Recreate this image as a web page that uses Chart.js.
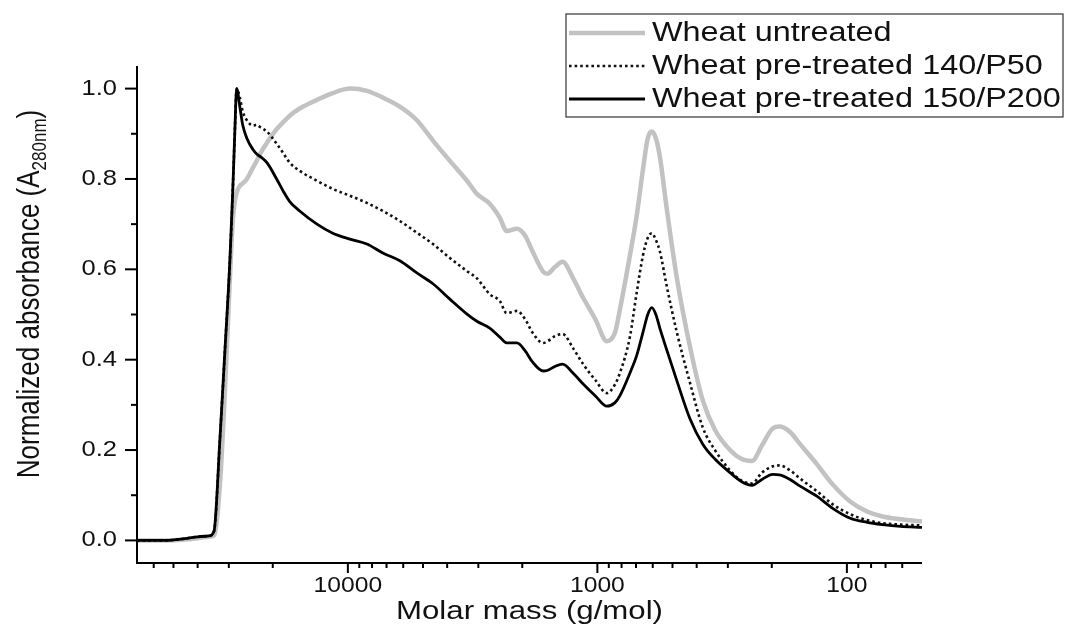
<!DOCTYPE html>
<html>
<head>
<meta charset="utf-8">
<script src="https://cdn.jsdelivr.net/npm/chart.js@4.4.1/dist/chart.umd.min.js"></script>
<style>
  html, body { margin: 0; padding: 0; background: #fff; }
  #wrap { width: 1069px; height: 640px; }
</style>
</head>
<body>
<div id="wrap"><canvas id="chart" width="1069" height="640"></canvas></div>
<script>
// Molar mass grid (g/mol)
const molarMass = [70000, 54000, 45000, 40000, 36000, 34400, 32600, 31100, 29700, 28900,
  28400, 27900, 27100, 26400, 25400, 24000, 23200, 22500, 21100, 19300,
  18200, 17100, 15600, 13300, 11500, 9820, 8390, 7240, 6190, 5290,
  4560, 3900, 3330, 3040, 2700, 2460, 2310, 2100, 1950, 1820,
  1650, 1590, 1480, 1380, 1250, 1140, 1020, 916, 850, 813,
  741, 695, 657, 628, 605, 583, 562, 526, 480, 426,
  378, 338, 294, 264, 240, 219, 198, 186, 169, 154,
  132, 114, 97, 83, 72, 61, 50];

const untreated = [0, 0, 0.002, 0.005, 0.008, 0.01, 0.12, 0.33, 0.58, 0.71,
  0.75, 0.77, 0.785, 0.79, 0.80, 0.825, 0.84, 0.855, 0.88, 0.91,
  0.925, 0.94, 0.956, 0.975, 0.99, 1.0, 0.995, 0.98, 0.96, 0.93,
  0.885, 0.84, 0.796, 0.767, 0.745, 0.714, 0.685, 0.69, 0.675, 0.64,
  0.595, 0.59, 0.605, 0.617, 0.58, 0.537, 0.49, 0.441, 0.46, 0.51,
  0.63, 0.72, 0.82, 0.89, 0.905, 0.89, 0.85, 0.73, 0.58, 0.43,
  0.31, 0.245, 0.20, 0.18, 0.176, 0.21, 0.248, 0.252, 0.24, 0.213,
  0.169, 0.124, 0.086, 0.064, 0.053, 0.047, 0.042];

const pre140 = [0, 0, 0.004, 0.008, 0.01, 0.02, 0.22, 0.42, 0.62, 0.78,
  0.90, 1.0, 0.98, 0.95, 0.93, 0.918, 0.92, 0.915, 0.905, 0.878,
  0.858, 0.836, 0.818, 0.796, 0.778, 0.763, 0.747, 0.729, 0.707, 0.681,
  0.656, 0.625, 0.596, 0.58, 0.545, 0.53, 0.503, 0.508, 0.49, 0.46,
  0.437, 0.44, 0.452, 0.457, 0.425, 0.39, 0.355, 0.326, 0.345, 0.37,
  0.45, 0.55, 0.63, 0.67, 0.68, 0.665, 0.64, 0.56, 0.46, 0.35,
  0.25, 0.20, 0.155, 0.132, 0.126, 0.15, 0.164, 0.166, 0.155, 0.137,
  0.109, 0.08, 0.058, 0.045, 0.038, 0.035, 0.033];

const pre150 = [0, 0, 0.004, 0.008, 0.01, 0.02, 0.22, 0.42, 0.62, 0.78,
  0.90, 1.0, 0.96, 0.92, 0.89, 0.865, 0.855, 0.85, 0.836, 0.80,
  0.774, 0.75, 0.729, 0.70, 0.68, 0.667, 0.656, 0.636, 0.619, 0.592,
  0.568, 0.534, 0.501, 0.485, 0.47, 0.45, 0.437, 0.437, 0.42, 0.395,
  0.375, 0.376, 0.385, 0.39, 0.37, 0.346, 0.32, 0.297, 0.305, 0.32,
  0.37, 0.41, 0.46, 0.50, 0.515, 0.50, 0.47, 0.42, 0.353, 0.27,
  0.213, 0.18, 0.15, 0.13, 0.122, 0.135, 0.146, 0.145, 0.135, 0.12,
  0.098, 0.071, 0.049, 0.04, 0.035, 0.031, 0.029];

const seriesNames = ["Wheat untreated", "Wheat pre-treated 140/P50", "Wheat pre-treated 150/P200"];
const xTicks = [10000, 1000, 100];
const xMinorTicks = [60000, 50000, 40000, 30000, 20000, 9000, 8000, 7000, 6000, 5000, 4000, 3000, 2000,
  900, 800, 700, 600, 500, 400, 300, 200, 90, 80, 70, 60];
const yTicks = [0, 0.2, 0.4, 0.6, 0.8, 1.0];
const yMinorTicks = [0.1, 0.3, 0.5, 0.7, 0.9];

const FONT = '"Liberation Sans", Arial, sans-serif';
const TEXT = "#111";
const toPoints = vals => molarMass.map((m, i) => ({ x: m, y: vals[i] }));

// the source picture is stretched sideways, so text is drawn a bit wide
function wideText(ctx, str, x, y, size, align, sx) {
  ctx.save();
  ctx.translate(x, y);
  ctx.scale(sx, 1);
  ctx.font = size + "px " + FONT;
  ctx.textAlign = align;
  ctx.textBaseline = "middle";
  ctx.fillStyle = TEXT;
  ctx.fillText(str, 0, 0);
  ctx.restore();
}

// axis lines, tick marks, labels, titles and boxed legend
const decor = {
  id: "decor",
  afterDraw(chart) {
    const { ctx, chartArea: a, scales: { x, y } } = chart;
    ctx.save();
    ctx.strokeStyle = "#000";
    ctx.lineWidth = 2;
    const seg = (x1, y1, x2, y2) => { ctx.beginPath(); ctx.moveTo(x1, y1); ctx.lineTo(x2, y2); ctx.stroke(); };
    seg(a.left, a.top, a.left, a.bottom + 1);
    seg(a.left - 1, a.bottom, a.right, a.bottom);
    yTicks.forEach(v => { const p = y.getPixelForValue(v); seg(a.left - 12, p, a.left, p); });
    yMinorTicks.forEach(v => { const p = y.getPixelForValue(v); seg(a.left - 6, p, a.left, p); });
    xTicks.forEach(v => { const p = x.getPixelForValue(v); seg(p, a.bottom, p, a.bottom + 10); });
    xMinorTicks.forEach(v => { const p = x.getPixelForValue(v); seg(p, a.bottom, p, a.bottom + 5); });
    ctx.restore();

    yTicks.forEach(v => wideText(ctx, v.toFixed(1), 117, y.getPixelForValue(v), 22, "right", 1.16));
    xTicks.forEach(v => wideText(ctx, String(v), x.getPixelForValue(v), 586, 22, "center", 1.12));
    wideText(ctx, "Molar mass (g/mol)", (a.left + a.right) / 2, 612, 26, "center", 1.2);

    // y axis title with subscript, rotated
    ctx.save();
    ctx.fillStyle = TEXT;
    ctx.translate(39, 294);
    ctx.scale(1.22, 1);
    ctx.rotate(-Math.PI / 2);
    const main = "Normalized absorbance (A", sub = "280nm", end = ")";
    ctx.font = "26px " + FONT;
    const w1 = ctx.measureText(main).width, w3 = ctx.measureText(end).width;
    ctx.font = "17px " + FONT;
    const w2 = ctx.measureText(sub).width;
    const sx = -(w1 + w2 + w3) / 2;
    ctx.textBaseline = "alphabetic";
    ctx.font = "26px " + FONT;
    ctx.fillText(main, sx, 0);
    ctx.font = "17px " + FONT;
    ctx.fillText(sub, sx + w1, 6);
    ctx.font = "26px " + FONT;
    ctx.fillText(end, sx + w1 + w2, 0);
    ctx.restore();

    // legend
    ctx.save();
    const bx = 566, by = 14, bw = 497, bh = 103, rowH = 33;
    ctx.fillStyle = "#fff";
    ctx.fillRect(bx, by, bw, bh);
    ctx.strokeStyle = "#333";
    ctx.lineWidth = 1.2;
    ctx.strokeRect(bx, by, bw, bh);
    chart.data.datasets.forEach((ds, i) => {
      const ry = by + 19 + i * rowH;
      ctx.strokeStyle = ds.borderColor;
      ctx.lineWidth = ds.borderWidth;
      ctx.setLineDash(ds.borderDash || []);
      ctx.beginPath(); ctx.moveTo(bx + 3, ry); ctx.lineTo(bx + 79, ry); ctx.stroke();
      ctx.setLineDash([]);
      wideText(ctx, ds.label, bx + 86, ry + 1, 27, "left", 1.2);
    });
    ctx.restore();
  }
};

new Chart(document.getElementById("chart"), {
  type: "line",
  data: {
    datasets: [
      {
        label: seriesNames[0],
        data: toPoints(untreated),
        borderColor: "#c2c2c2",
        borderWidth: 4.5,
        order: 3,
      },
      {
        label: seriesNames[1],
        data: toPoints(pre140),
        borderColor: "#111",
        borderWidth: 2.6,
        borderDash: [2.6, 3],
        order: 2,
      },
      {
        label: seriesNames[2],
        data: toPoints(pre150),
        borderColor: "#000",
        borderWidth: 2.8,
        order: 1,
      },
    ],
  },
  options: {
    responsive: false,
    animation: false,
    events: [],
    layout: { padding: { top: 66, right: 147, left: 0, bottom: 0 } },
    plugins: { legend: { display: false }, tooltip: { enabled: false } },
    elements: { point: { radius: 0 }, line: { cubicInterpolationMode: "monotone", fill: false } },
    scales: {
      x: {
        type: "logarithmic",
        reverse: true,
        min: 50,
        max: 70000,
        grid: { display: false, drawTicks: false },
        border: { display: false },
        afterBuildTicks: axis => { axis.ticks = xTicks.map(v => ({ value: v })); },
        afterFit: axis => { axis.height = 77; },
        ticks: { display: false },
      },
      y: {
        min: -0.05,
        max: 1.05,
        grid: { display: false, drawTicks: false },
        border: { display: false },
        afterBuildTicks: axis => { axis.ticks = yTicks.map(v => ({ value: v })); },
        afterFit: axis => { axis.width = 137; },
        ticks: { display: false },
      },
    },
  },
  plugins: [decor],
});
</script>
</body>
</html>
